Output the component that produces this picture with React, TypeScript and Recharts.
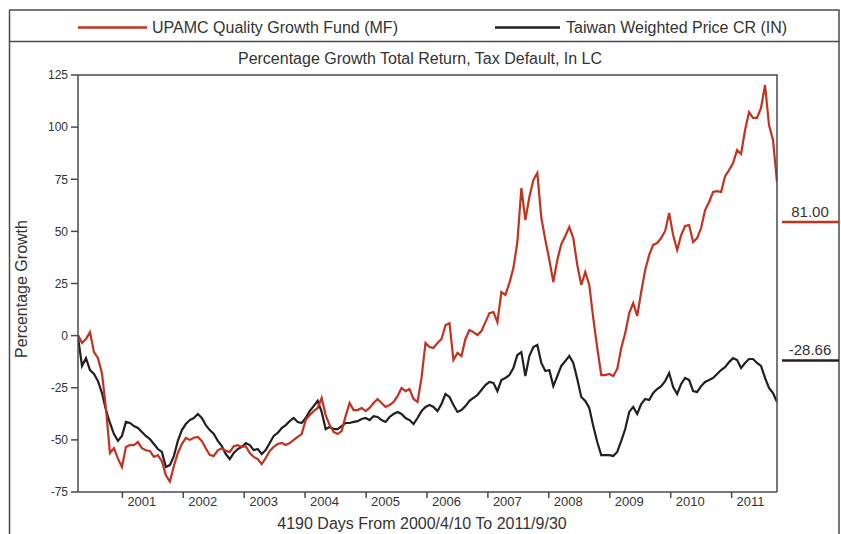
import React from 'react';
import { LineChart, Line, XAxis, YAxis } from 'recharts';

// 2000/4/10 .. 2011/9/30
const TOTAL_DAYS = 4190;

const yearLabels = ['2001', '2002', '2003', '2004', '2005', '2006', '2007', '2008', '2009', '2010', '2011'];
// days from 2000/4/10 to each Jan 1
const yearTickDays = [266, 631, 996, 1361, 1727, 2092, 2457, 2822, 3188, 3553, 3918];
const yTicks = [-75, -50, -25, 0, 25, 50, 75, 100, 125];

// UPAMC Quality Growth Fund (MF), % growth, evenly spaced samples
const fundValues = [
  0.3, -3.5, -1.6, 1.7, -7.9, -10.8, -18, -35, -56.3, -54,
  -59, -63, -53.4, -52.5, -52.5, -51, -54, -55, -55.3, -58.2,
  -57.3, -60.2, -67, -70, -62.5, -56.3, -52, -49.1, -50, -49,
  -48.6, -50.5, -54, -57.3, -57.7, -55, -54, -55.3, -55.8, -53,
  -52.5, -53.4, -53, -56.3, -58.2, -59.2, -61.6, -58.7, -55.3, -53.4,
  -52, -51.5, -52.5, -51.5, -50, -48.6, -47.2, -40.5, -38.1, -36.2,
  -34.7, -29.9, -38.1, -42.9, -46.2, -47.2, -45.8, -38.6, -32.3, -35.7,
  -35.7, -34.7, -36.2, -34.7, -32.3, -30.4, -32.3, -34.2, -33.3, -31.8,
  -29, -25.1, -26.6, -25.6, -30.4, -31.8, -20.3, -3.5, -5.5, -5.9,
  -3.5, -1.6, 5, 6, -11.7, -8.3, -9.8, -1.6, 2.7, 1.7,
  0.3, 2.2, 6.5, 10.8, 11.3, 6.5, 20.9, 19.5, 25.2, 32.4,
  44.9, 70.8, 55.4, 66.5, 74.6, 78, 56.4, 45.9, 36.3, 25.7,
  36.3, 43.9, 47.8, 52.1, 46.8, 33.8, 24.3, 30.5, 24.3, 8.4,
  -5.9, -18.9, -18.9, -18.4, -19.4, -16, -5.9, 1.2, 10.8, 15.6,
  9.4, 20.9, 31.5, 38.7, 43.5, 44.4, 46.8, 50.2, 58.8, 48.2,
  41.1, 48.2, 52.6, 53, 44.9, 46.8, 51.6, 60.2, 64.1, 68.9,
  69.3, 68.9, 76.5, 79.4, 82.8, 89, 87.1, 98.6, 107.2, 104.4,
  104.4, 109.2, 120.2, 101, 93.8, 73.7,
];

// Taiwan Weighted Price CR (IN)
const indexValues = [
  -0.7, -14.5, -10.8, -16.5, -18.4, -21.8, -27.5, -35.7, -41.9, -47.2,
  -50.5, -48.1, -41.4, -41.9, -43.4, -44.3, -46.2, -48.1, -49.6, -52,
  -54.4, -55.8, -63, -62.1, -57.8, -50.5, -45.3, -42.4, -40.5, -39.5,
  -37.6, -39.5, -42.9, -45.3, -47.2, -50.5, -53, -56.8, -59.2, -56.3,
  -54.4, -53.4, -51.5, -52.5, -54.9, -54.4, -56.8, -54.9, -51.5, -48.1,
  -46.7, -44.3, -42.9, -41, -39.5, -41.4, -41.9, -39.5, -36.2, -33.8,
  -31.3, -36.6, -44.8, -43.8, -44.8, -44.8, -43.4, -41.9, -41.9, -41.4,
  -41, -40, -39.5, -40.5, -38.6, -39, -40.5, -41.4, -39, -37.6,
  -36.6, -37.6, -39.5, -40.5, -42.4, -39.5, -36.2, -34.2, -33.3, -34.2,
  -36.2, -32.8, -28, -29.4, -33.3, -36.6, -35.7, -33.8, -31.3, -29.9,
  -28.5, -26.1, -23.7, -22.2, -22.7, -26.6, -21.3, -20.3, -18.9, -15.5,
  -9.3, -7.9, -19.4, -9.8, -5.5, -4.5, -13.1, -17, -16.5, -24.2,
  -19.4, -14.5, -12.2, -9.8, -13.1, -20.8, -29.4, -31.3, -34.7, -43.4,
  -51, -57.3, -57.3, -57.3, -57.7, -55.8, -50.5, -44.8, -36.6, -34.2,
  -37.6, -32.8, -30.4, -30.9, -27.5, -25.6, -24.2, -21.8, -17.9, -24.7,
  -28, -23.2, -20.3, -21.3, -26.6, -27, -24.2, -22.2, -21.3, -20.3,
  -18.4, -16.5, -15.1, -12.7, -10.8, -11.7, -15.5, -13.1, -11.2, -11.2,
  -13.1, -14.5, -20.3, -25.1, -27.5, -31.8,
];

const fundName = 'UPAMC Quality Growth Fund (MF)';
const indexName = 'Taiwan Weighted Price CR (IN)';
const fundLast = '81.00';
const indexLast = '-28.66';

const RED = '#c4311f';
const BLACK = '#231f20';
const AXIS = '#4a4a4a';
const TEXT = '#333333';
const FONT = '"Liberation Sans", Arial, sans-serif';

const data = fundValues.map((v, i) => ({
  day: (i * TOTAL_DAYS) / (fundValues.length - 1),
  fund: v,
  index: indexValues[i],
}));

const YearTick = (props: any) => {
  const { x, y, payload } = props;
  const idx = yearTickDays.indexOf(payload.value);
  return (
    <text x={x + 5} y={y + 8} fontSize={13} fill={TEXT} fontFamily={FONT} textAnchor="start">
      {yearLabels[idx]}
    </text>
  );
};

export default function App() {
  return (
    <div style={{ position: 'absolute', left: 0, top: 0, width: 841, height: 534, background: '#fff', fontFamily: FONT }}>
      <LineChart
        width={841}
        height={534}
        data={data}
        margin={{ top: 75, right: 64, bottom: 12, left: 0 }}
      >
        <XAxis
          dataKey="day"
          type="number"
          domain={[0, TOTAL_DAYS]}
          ticks={yearTickDays}
          tick={<YearTick />}
          tickSize={6}
          tickMargin={0}
          height={30}
          stroke={AXIS}
          strokeWidth={1.5}
          interval={0}
          allowDataOverflow
        />
        <YAxis
          type="number"
          domain={[-75, 125]}
          ticks={yTicks}
          width={78}
          tickSize={7}
          tickMargin={3}
          stroke={AXIS}
          strokeWidth={1.5}
          interval={0}
          tick={{ fill: TEXT, fontSize: 12, fontFamily: FONT }}
          allowDataOverflow
        />
        <Line
          type="linear"
          dataKey="index"
          stroke={BLACK}
          strokeWidth={2.2}
          dot={false}
          isAnimationActive={false}
        />
        <Line
          type="linear"
          dataKey="fund"
          stroke={RED}
          strokeWidth={2.2}
          dot={false}
          isAnimationActive={false}
        />
      </LineChart>
      <svg
        width={841}
        height={534}
        style={{ position: 'absolute', left: 0, top: 0, pointerEvents: 'none' }}
      >
        {/* outer frame */}
        <line x1={9.5} y1={10} x2={9.5} y2={534} stroke={AXIS} strokeWidth={1.5} />
        <line x1={839} y1={10} x2={839} y2={534} stroke={AXIS} strokeWidth={1.5} />
        <line x1={9} y1={10} x2={839.5} y2={10} stroke={AXIS} strokeWidth={1.5} />
        <line x1={9} y1={41.5} x2={839.5} y2={41.5} stroke={AXIS} strokeWidth={1.5} />
        {/* legend */}
        <line x1={78} y1={27.5} x2={147} y2={27.5} stroke={RED} strokeWidth={2.5} />
        <text x={152} y={33} fontSize={16} fill={TEXT} fontFamily={FONT}>{fundName}</text>
        <line x1={495} y1={27.5} x2={560} y2={27.5} stroke={BLACK} strokeWidth={2.5} />
        <text x={566} y={33} fontSize={16} fill={TEXT} fontFamily={FONT}>{indexName}</text>
        {/* title */}
        <text x={420} y={64} fontSize={16} fill={TEXT} fontFamily={FONT} textAnchor="middle">
          Percentage Growth Total Return, Tax Default, In LC
        </text>
        {/* plot box top / right */}
        <line x1={78} y1={75} x2={777.5} y2={75} stroke={AXIS} strokeWidth={1.5} />
        <line x1={777} y1={74.5} x2={777} y2={492} stroke={AXIS} strokeWidth={1.5} />
        {/* axis titles */}
        <text
          x={0}
          y={0}
          fontSize={16}
          fill={TEXT}
          fontFamily={FONT}
          textAnchor="middle"
          transform="translate(27 289) rotate(-90)"
        >
          Percentage Growth
        </text>
        <text x={422} y={529} fontSize={16} fill={TEXT} fontFamily={FONT} textAnchor="middle">
          4190 Days From 2000/4/10 To 2011/9/30
        </text>
        {/* last values */}
        <text x={810} y={217} fontSize={15} fill={TEXT} fontFamily={FONT} textAnchor="middle">{fundLast}</text>
        <line x1={782} y1={222} x2={839} y2={222} stroke={RED} strokeWidth={2.5} />
        <text x={810} y={355} fontSize={15} fill={TEXT} fontFamily={FONT} textAnchor="middle">{indexLast}</text>
        <line x1={782} y1={360.5} x2={839} y2={360.5} stroke={BLACK} strokeWidth={2.5} />
      </svg>
    </div>
  );
}
